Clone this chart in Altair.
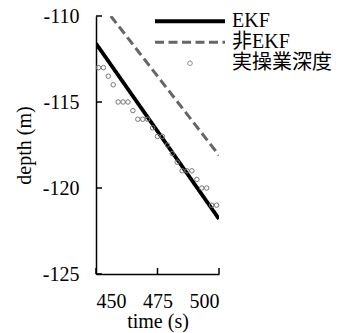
import altair as alt
import pandas as pd

FONT = "Liberation Serif, Noto Sans CJK JP"

# series names
series_names = ["EKF", "非EKF", "実操業深度"]

# EKF line
ekf_time = [450, 500]
ekf_depth = [-111.6, -121.8]

# non-EKF line
nonekf_time = [456, 500]
nonekf_depth = [-110.0, -118.1]

# actual operation depth
act_time = [451, 453, 455, 457, 459, 461, 463, 465, 467, 469, 471, 473, 475,
            477, 479, 481, 483, 485, 487, 489, 491, 493, 495, 497, 499]
act_depth = [-113.0, -113.0, -113.5, -114.0, -115.0, -115.0, -115.0, -115.5,
             -116.0, -116.0, -116.0, -116.5, -117.0, -117.0, -117.5, -118.0,
             -118.5, -119.0, -119.0, -119.0, -119.5, -120.0, -120.0, -121.0, -121.0]

x_ticks = [450, 475, 500]
y_ticks = [-125, -120, -115, -110]

lines_df = pd.DataFrame({
    "time": ekf_time + nonekf_time,
    "depth": ekf_depth + nonekf_depth,
    "series": [series_names[0]] * len(ekf_time) + [series_names[1]] * len(nonekf_time),
})
pts_df = pd.DataFrame({"time": act_time, "depth": act_depth, "series": series_names[2]})

W, H = 123, 258

x_enc = alt.X("time:Q", scale=alt.Scale(domain=[450, 500], nice=False, zero=False),
              axis=alt.Axis(values=x_ticks, title="time (s)", ticks=False, grid=False,
                            domainColor="black", domainWidth=1.5, labelPadding=17,
                            titlePadding=0))
y_enc = alt.Y("depth:Q", scale=alt.Scale(domain=[-125, -110], nice=False, zero=False),
              axis=alt.Axis(values=y_ticks, title="depth (m)", ticks=False, grid=False,
                            domainColor="black", domainWidth=1.5, labelPadding=17,
                            labelExpr="toString(datum.value)", titlePadding=8))

color = alt.Color("series:N", scale=alt.Scale(domain=series_names,
                                               range=["#000000", "#666666", "#777777"]),
                  legend=alt.Legend(title=None, orient="none", legendX=57, legendY=-5,
                                    padding=0, clipHeight=20.5, rowPadding=0,
                                    labelFont=FONT, labelFontSize=20, labelColor="black",
                                    labelOffset=5))
dash = alt.StrokeDash("series:N", scale=alt.Scale(type="ordinal", domain=series_names,
                                                   range=[[1, 0], [9, 4.5], [1, 0]]))
sw = alt.StrokeWidth("series:N", scale=alt.Scale(type="ordinal", domain=series_names,
                                                  range=[3.8, 3, 1]))
shape = alt.Shape("series:N", scale=alt.Scale(domain=series_names,
                                               range=["stroke", "stroke", "circle"]))
size = alt.Size("series:N", scale=alt.Scale(type="ordinal", domain=series_names,
                                             range=[4900, 4900, 20]))

lines = alt.Chart(lines_df).mark_line(clip=True).encode(
    x=x_enc, y=y_enc, color=color, strokeDash=dash, strokeWidth=sw,
    detail="series:N")

pts = alt.Chart(pts_df).mark_point(filled=False, clip=False, opacity=1).encode(
    x="time:Q", y="depth:Q", color=color, shape=shape, size=size, strokeWidth=sw)

xt = alt.Chart(pd.DataFrame({"t": x_ticks})).mark_rule(color="black", strokeWidth=1.5).encode(
    x="t:Q", y=alt.value(H), y2=alt.value(H - 6))
yt = alt.Chart(pd.DataFrame({"t": y_ticks})).mark_rule(color="black", strokeWidth=1.5).encode(
    y="t:Q", x=alt.value(0), x2=alt.value(6))

chart = alt.layer(lines, pts, xt, yt).properties(
    width=W, height=H,
    autosize=alt.AutoSizeParams(type="none"),
    padding={"left": 88, "top": 8, "right": 124, "bottom": 59},
).configure_view(stroke=None).configure_axis(
    labelFont=FONT, labelFontSize=20, labelColor="black",
    titleFont=FONT, titleFontSize=20, titleColor="black", titleFontWeight="normal",
)

chart.save("out.html", embed_options={"renderer": "svg", "actions": False})
